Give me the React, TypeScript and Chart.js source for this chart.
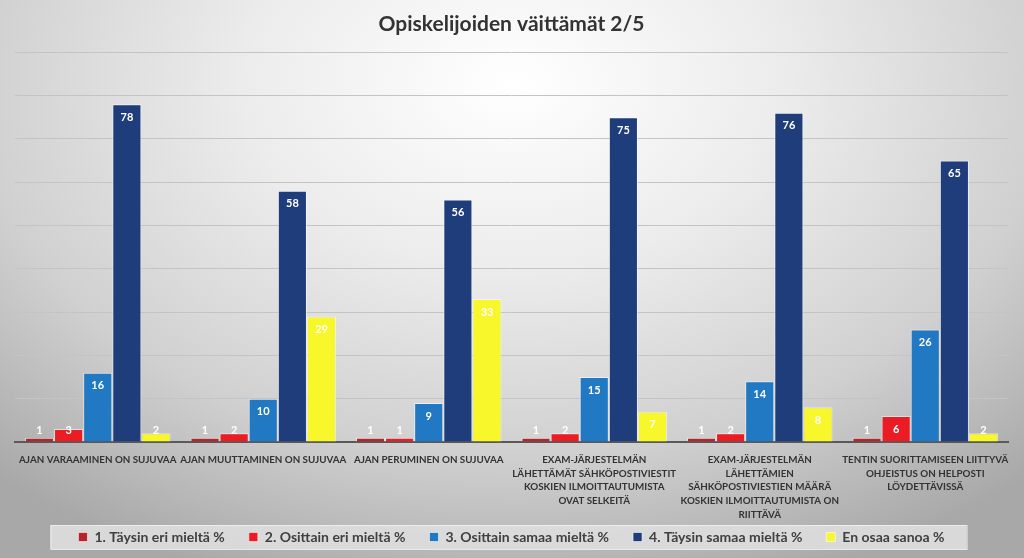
import React, { useEffect, useRef } from "react";
import { Chart, registerables } from "chart.js";

Chart.register(...registerables);

const categories: (string | string[])[] = [
  "AJAN VARAAMINEN ON SUJUVAA",
  "AJAN MUUTTAMINEN ON SUJUVAA",
  "AJAN PERUMINEN ON SUJUVAA",
  ["EXAM-JÄRJESTELMÄN", "LÄHETTÄMÄT SÄHKÖPOSTIVIESTIT", "KOSKIEN ILMOITTAUTUMISTA", "OVAT SELKEITÄ"],
  ["EXAM-JÄRJESTELMÄN", "LÄHETTÄMIEN", "SÄHKÖPOSTIVIESTIEN MÄÄRÄ", "KOSKIEN ILMOITTAUTUMISTA ON", "RIITTÄVÄ"],
  ["TENTIN SUORITTAMISEEN LIITTYVÄ", "OHJEISTUS ON HELPOSTI", "LÖYDETTÄVISSÄ"],
];

const seriesNames = [
  "1. Täysin eri mieltä %",
  "2. Osittain eri mieltä %",
  "3. Osittain samaa mieltä %",
  "4. Täysin samaa mieltä %",
  "En osaa sanoa %",
];

const taysinEri = [1, 1, 1, 1, 1, 1];
const osittainEri = [3, 2, 1, 2, 2, 6];
const osittainSamaa = [16, 10, 9, 15, 14, 26];
const taysinSamaa = [78, 58, 56, 75, 76, 65];
const enOsaa = [2, 29, 33, 7, 8, 2];

const seriesValues = [taysinEri, osittainEri, osittainSamaa, taysinSamaa, enOsaa];
const seriesColors = ["#B8242B", "#EC1C24", "#2279C3", "#1F3C7B", "#F7F72B"];

const yMax = 90;
const yStep = 10;

const FONT = "Lato, 'Open Sans', sans-serif";

const labelPlugin = {
  id: "barLabels",
  afterDatasetsDraw(chart: any) {
    const ctx = chart.ctx;
    ctx.save();
    ctx.font = `bold 11px ${FONT}`;
    ctx.fillStyle = "#ffffff";
    ctx.textAlign = "center";
    ctx.textBaseline = "middle";
    chart.data.datasets.forEach((ds: any, di: number) => {
      const meta = chart.getDatasetMeta(di);
      meta.data.forEach((bar: any, i: number) => {
        const base = bar.base;
        const y = Math.min(bar.y + 13, base - 11);
        ctx.fillText(String(ds.data[i]), bar.x, y);
      });
    });
    ctx.restore();
  },
};

const legendBoxPlugin = {
  id: "legendBox",
  beforeDraw(chart: any) {
    const lg = chart.legend;
    if (!lg || !lg.legendHitBoxes || !lg.legendHitBoxes.length) return;
    const boxes = lg.legendHitBoxes;
    const left = Math.min(...boxes.map((b: any) => b.left)) - 28;
    const right = Math.max(...boxes.map((b: any) => b.left + b.width)) + 22;
    const top = boxes[0].top;
    const ctx = chart.ctx;
    ctx.save();
    ctx.fillStyle = "rgba(222,222,222,0.9)";
    ctx.strokeStyle = "rgba(240,240,240,0.9)";
    ctx.lineWidth = 1;
    const y = top + boxes[0].height / 2 - 12;
    ctx.fillRect(left, y, right - left, 24);
    ctx.strokeRect(left + 0.5, y + 0.5, right - left, 24);
    ctx.restore();
  },
};

export default function App() {
  const ref = useRef<HTMLCanvasElement>(null);
  useEffect(() => {
    if (!ref.current) return;
    const chart = new Chart(ref.current, {
      type: "bar",
      data: {
        labels: categories,
        datasets: seriesValues.map((vals, i) => ({
          label: seriesNames[i],
          data: vals,
          backgroundColor: seriesColors[i],
          borderColor: "rgba(255,255,255,0.55)",
          borderWidth: 1,
          categoryPercentage: 0.88,
          barPercentage: 1.0,
        })),
      },
      options: {
        animation: false,
        responsive: false,
        layout: { padding: { left: 15, right: 16, top: 0, bottom: 4 } },
        plugins: {
          title: {
            display: true,
            text: "Opiskelijoiden väittämät 2/5",
            color: "#333333",
            font: { family: FONT, size: 21, weight: "bold" },
            padding: { top: 12, bottom: 15 },
          },
          legend: {
            position: "bottom",
            labels: {
              color: "#404040",
              font: { family: FONT, size: 14, weight: "bold" },
              boxWidth: 9,
              boxHeight: 9,
              padding: 24,
            },
          },
          tooltip: { enabled: false },
        },
        scales: {
          x: {
            grid: { display: false },
            border: { display: true, color: "#595959", width: 2 },
            ticks: {
              color: "#333333",
              font: { family: FONT, size: 9.8, weight: "bold", lineHeight: 1.4 },
              maxRotation: 0,
              autoSkip: false,
              padding: 3,
            },
            afterFit: (s: any) => {
              s.height = 64;
              s._computeLabelArea = () => undefined;
            },
          },
          y: {
            min: 0,
            max: yMax,
            ticks: { display: false, stepSize: yStep },
            grid: { color: "#c4c4c4", drawTicks: false, lineWidth: 1 },
            border: { display: false },
            afterFit: (s: any) => {
              s.width = 0;
            },
          },
        },
      },
      plugins: [labelPlugin, legendBoxPlugin],
    });
    return () => chart.destroy();
  }, []);

  return (
    <div
      style={{
        position: "fixed",
        left: 0,
        top: 0,
        width: 1024,
        height: 558,
        background:
          "radial-gradient(ellipse 75% 95% at 50% 15%, #ffffff 0%, #ececec 35%, #d0d0d0 70%, #a8a8a8 100%)",
      }}
    >
      <canvas ref={ref} width={1024} height={558} style={{ display: "block" }} />
    </div>
  );
}
